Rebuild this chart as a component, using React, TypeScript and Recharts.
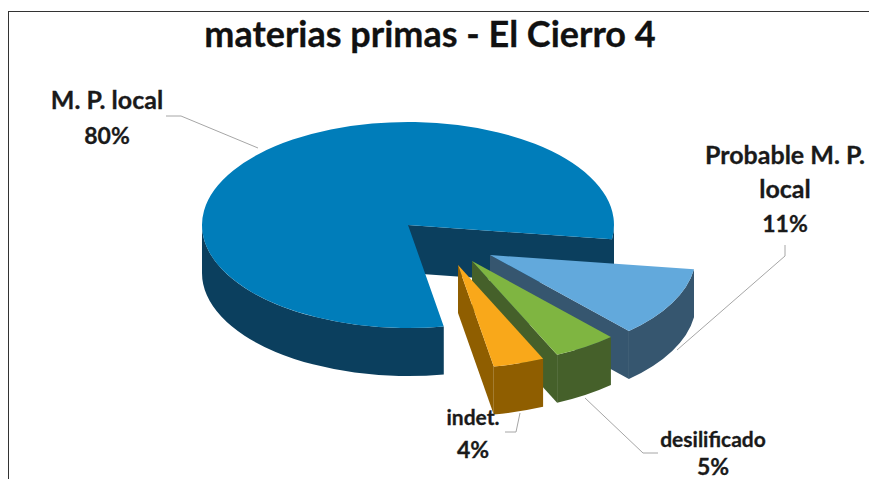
import { Pie, PieChart } from "recharts";

const categories = ["M. P. local", "Probable M. P. local", "desilificado", "indet."];
const percentages = [80, 11, 5, 4];

const data = categories.map((name, i) => ({ name, value: percentages[i] }));

const WIDTH = 869;
const HEIGHT = 479;
const CX = 408;
const CY = 225;
const RADIUS = 206;
const TILT = 0.5;
const DEPTH = 48;

// exploded offset of each slice, top face colour, side colour
const sliceStyles = [
  { dx: 0, dy: 0, top: "#007dba", side: "#0b3f5e" },
  { dx: 82, dy: 30, top: "#62a9dc", side: "#36566f" },
  { dx: 64, dy: 36, top: "#7fb541", side: "#45602a" },
  { dx: 50, dy: 40, top: "#f9a81a", side: "#8f5e00" },
];

const labelStyles = [
  { x: 107, lines: ["M. P. local"], ys: [109, 144], size: 25, leader: "166,116 181,116 258,148" },
  { x: 785, lines: ["Probable M. P."], ys: [164, 198, 232], size: 25, leader: "785,245 785,256 677,350" },
  { x: 713, lines: ["desilificado"], ys: [447, 475], size: 21, leader: "585,398 643,453 658,453" },
  { x: 473, lines: ["indet."], ys: [425, 458], size: 21, leader: "520,413 516,432 505,432" },
];
labelStyles[1].lines.push("local");

const rad = (deg: number) => (deg * Math.PI) / 180;

const arcPoint = (cx: number, cy: number, r: number, deg: number) => [
  cx + r * Math.cos(rad(deg)),
  cy - r * TILT * Math.sin(rad(deg)),
];

// arc that runs from angle a to angle b on the flattened circle
const arcTo = (cx: number, cy: number, r: number, a: number, b: number) => {
  const [x, y] = arcPoint(cx, cy, r, b);
  const large = Math.abs(b - a) > 180 ? 1 : 0;
  const sweep = b > a ? 0 : 1;
  return `A${r} ${r * TILT} 0 ${large} ${sweep} ${x} ${y}`;
};

const Slice3D = (props: any) => {
  const { cx, cy, startAngle, endAngle, outerRadius, index } = props;
  const s = sliceStyles[index];
  const x0 = cx + s.dx;
  const y0 = cy + s.dy;
  const lo = Math.min(startAngle, endAngle);
  const hi = Math.max(startAngle, endAngle);
  const r = outerRadius;

  const [sx, sy] = arcPoint(x0, y0, r, lo);
  const [ex, ey] = arcPoint(x0, y0, r, hi);

  const topFace = `M${x0} ${y0}L${sx} ${sy}${arcTo(x0, y0, r, lo, hi)}Z`;

  // the cut faces that turn towards the viewer
  const cuts: string[] = [];
  if (Math.sin(rad(lo - 90)) < 0) {
    cuts.push(`M${x0} ${y0}L${sx} ${sy}L${sx} ${sy + DEPTH}L${x0} ${y0 + DEPTH}Z`);
  }
  if (Math.sin(rad(hi + 90)) < 0) {
    cuts.push(`M${x0} ${y0}L${ex} ${ey}L${ex} ${ey + DEPTH}L${x0} ${y0 + DEPTH}Z`);
  }

  // the outer wall, only on the front half of the rim
  const walls: string[] = [];
  for (const k of [-360, 0, 360]) {
    const a = Math.max(lo, 180 + k);
    const b = Math.min(hi, 360 + k);
    if (b <= a) continue;
    const [ax, ay] = arcPoint(x0, y0, r, a);
    const [bx, by] = arcPoint(x0, y0, r, b);
    walls.push(
      `M${ax} ${ay}${arcTo(x0, y0, r, a, b)}L${bx} ${by + DEPTH}` +
        `${arcTo(x0, y0 + DEPTH, r, b, a)}L${ax} ${ay + DEPTH}Z`
    );
  }

  return (
    <g>
      {cuts.map((d, i) => (
        <path key={i} d={d} fill={s.side} />
      ))}
      {walls.map((d, i) => (
        <path key={i} d={d} fill={s.side} />
      ))}
      <path d={topFace} fill={s.top} />
    </g>
  );
};

const renderLabel = (props: any) => {
  const { index, value } = props;
  const l = labelStyles[index];
  const rows = [...l.lines, `${value}%`];
  return (
    <g key={index}>
      <polyline points={l.leader} fill="none" stroke="#a6a6a6" strokeWidth={1} />
      {rows.map((row, i) => (
        <text
          key={i}
          x={l.x}
          y={l.ys[i]}
          textAnchor="middle"
          fontFamily="Lato, sans-serif"
          fontWeight={700}
          fontSize={i === rows.length - 1 ? 23 : l.size}
          fill="#1a1a1a"
          stroke="#1a1a1a"
          strokeWidth={0.3}
        >
          {row}
        </text>
      ))}
    </g>
  );
};

export default function App() {
  return (
    <div style={{ position: "absolute", left: 0, top: 0, width: WIDTH, height: HEIGHT, background: "#fff", overflow: "hidden" }}>
      <div
        style={{
          position: "absolute",
          left: 8,
          top: 11,
          width: WIDTH,
          height: HEIGHT,
          borderLeft: "1.5px solid #333",
          borderTop: "1.5px solid #333",
        }}
      />
      <div style={{ position: "absolute", left: 0, top: 0 }}>
        <PieChart width={WIDTH} height={HEIGHT} margin={{ top: 0, right: 0, bottom: 0, left: 0 }}>
          <text
            x={430}
            y={47}
            textAnchor="middle"
            fontFamily="Lato, sans-serif"
            fontWeight={700}
            fontSize={36}
            fill="#111"
            stroke="#111"
            strokeWidth={0.3}
          >
            materias primas - El Cierro 4
          </text>
          <Pie
            data={data}
            dataKey="value"
            nameKey="name"
            cx={CX}
            cy={CY}
            innerRadius={0}
            outerRadius={RADIUS}
            startAngle={280}
            endAngle={-80}
            stroke="none"
            shape={Slice3D}
            label={renderLabel}
            labelLine={false}
            isAnimationActive={false}
          />
        </PieChart>
      </div>
    </div>
  );
}
